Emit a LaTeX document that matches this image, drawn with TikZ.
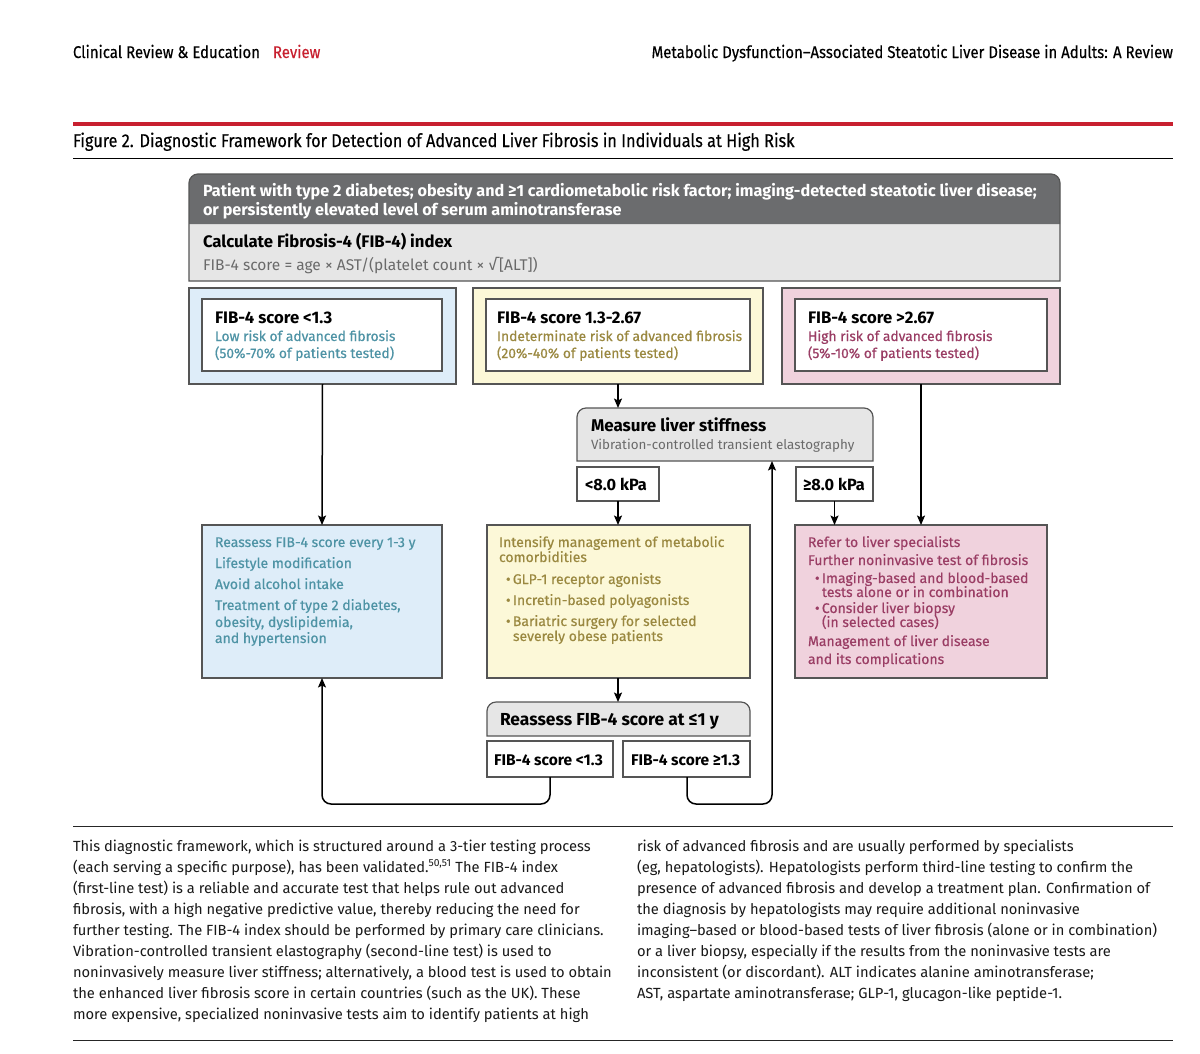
\documentclass[tikz,border=0pt]{standalone}
\usepackage{fontspec}
\setmainfont{Fira Sans}
\newfontfamily\hdrfont[FakeStretch=0.88,FakeBold=0.3]{Fira Sans}
\newfontfamily\diafont{Fira Sans}
\newfontfamily\medfont[FakeBold=0.5]{Fira Sans}
\usetikzlibrary{arrows.meta}
\definecolor{redline}{HTML}{C8202F}
\definecolor{hdrgray}{HTML}{6B6C6E}
\definecolor{lightgray}{HTML}{E6E6E6}
\definecolor{bordergray}{HTML}{555555}
\definecolor{txtgray}{HTML}{6A6A6A}
\definecolor{bluefill}{HTML}{DEEDF9}
\definecolor{bluetxt}{HTML}{4E93A5}
\definecolor{yelfill}{HTML}{FCF8D8}
\definecolor{yeltxt}{HTML}{9A8840}
\definecolor{pinkfill}{HTML}{F0D2DD}
\definecolor{pinktxt}{HTML}{9A3D64}
\begin{document}
\begin{tikzpicture}[x=1pt,y=-1pt,
  mybox/.style={draw=bordergray, line width=1.2pt, inner sep=0pt, outer sep=0pt, anchor=north west},
  myframe/.style={inner sep=0pt, outer sep=0pt, anchor=north west},
  mytxt/.style={anchor=base west, inner sep=0pt, outer sep=0pt},
  myttl/.style={mytxt, font=\diafont\bfseries\fontsize{16.7}{18}\selectfont, text=black},
  mysub/.style={mytxt, font=\medfont\fontsize{13.8}{17}\selectfont},
  mybody/.style={mytxt, font=\medfont\fontsize{14}{16}\selectfont},
  myarr/.style={-{Stealth[length=9.5pt,width=8pt,inset=2pt]}, line width=1.5pt, draw=black, rounded corners=9pt},
  mycap/.style={mytxt, align=left, font=\fontsize{14.7}{21}\selectfont, text=black!90}
]
\useasboundingbox[fill=white] (0,0) rectangle (1200,1053);

% page header
\node[mytxt, font=\hdrfont\fontsize{17}{19}\selectfont] (hl) at (73,58) {Clinical Review \& Education\hspace{13pt}\textcolor{redline}{Review}};
\node[mytxt, anchor=base east, font=\hdrfont\fontsize{17}{19}\selectfont] (hr) at (1173,58) {Metabolic Dysfunction–Associated Steatotic Liver Disease in Adults: A Review};
\draw[redline, line width=4pt] (73,124) -- (1173,124);
\node[mytxt, font=\hdrfont\fontsize{18.5}{21}\selectfont] (fig) at (73,147) {Figure 2. Diagnostic Framework for Detection of Advanced Liver Fibrosis in Individuals at High Risk};
\draw[black, line width=1pt] (73,158) -- (1173,158);

% top box
\node[myframe, minimum width=871pt, minimum height=107pt] (top) at (189,174) {};
\path[fill=lightgray] (top.south west) [rounded corners=9pt]-- (top.north west) -- (top.north east) [sharp corners]-- (top.south east) -- cycle;
\path[fill=hdrgray] ([yshift=-50pt]top.north west) [rounded corners=9pt]-- (top.north west) -- (top.north east) [sharp corners]-- ([yshift=-50pt]top.north east) -- cycle;
\draw[bordergray, line width=1.2pt] (top.south west) [rounded corners=9pt]-- (top.north west) -- (top.north east) [sharp corners]-- (top.south east) -- cycle;
\node[mytxt, align=left, font=\diafont\bfseries\fontsize{16.2}{19}\selectfont, text=white] (pt) at (203,215) {Patient with type 2 diabetes; obesity and ≥1 cardiometabolic risk factor; imaging-detected steatotic liver disease;\\or persistently elevated level of serum aminotransferase};
\node[myttl] (calc) at (203,247) {Calculate Fibrosis-4 (FIB-4) index};
\node[mytxt, text=txtgray, font=\diafont\fontsize{15.5}{17}\selectfont] (form) at (203,270) {FIB-4 score = age × AST/(platelet count × √[ALT])};

% tier boxes
\node[mybox, fill=bluefill, minimum width=267pt, minimum height=96pt] (bo) at (189,288) {};
\node[mybox, fill=white, minimum width=240pt, minimum height=72pt] (bi) at (202,299) {};
\node[myttl] (bt1) at (215,323) {FIB-4 score <1.3};
\node[mysub, text=bluetxt] (bt2) at (215,341) {Low risk of advanced fibrosis};
\node[mysub, text=bluetxt] (bt3) at (215,358) {(50\%-70\% of patients tested)};

\node[mybox, fill=yelfill, minimum width=290pt, minimum height=96pt] (yo) at (473,288) {};
\node[mybox, fill=white, minimum width=264pt, minimum height=72pt] (yi) at (486,299) {};
\node[myttl] (yt1) at (497,323) {FIB-4 score 1.3-2.67};
\node[mysub, text=yeltxt] (yt2) at (497,341) {Indeterminate risk of advanced fibrosis};
\node[mysub, text=yeltxt] (yt3) at (497,358) {(20\%-40\% of patients tested)};

\node[mybox, fill=pinkfill, minimum width=278pt, minimum height=96pt] (po) at (782,288) {};
\node[mybox, fill=white, minimum width=252pt, minimum height=72pt] (pi) at (795,299) {};
\node[myttl] (pt1) at (808,323) {FIB-4 score >2.67};
\node[mysub, text=pinktxt] (pt2) at (808,341) {High risk of advanced fibrosis};
\node[mysub, text=pinktxt] (pt3) at (808,358) {(5\%-10\% of patients tested)};

% measure box
\node[myframe, minimum width=296pt, minimum height=53pt] (meas) at (577,408) {};
\draw[bordergray, line width=1.2pt, fill=lightgray] (meas.south west) [rounded corners=9pt]-- (meas.north west) -- (meas.north east) [sharp corners]-- (meas.south east) -- cycle;
\node[mytxt, font=\diafont\bfseries\fontsize{17}{20}\selectfont] (mt1) at (591,431) {Measure liver stiffness};
\node[mytxt, text=txtgray, font=\diafont\fontsize{13.4}{16}\selectfont] (mt2) at (591,449) {Vibration-controlled transient elastography};
\node[mybox, fill=white, minimum width=82pt, minimum height=34pt] (lo) at (577,467) {};
\node[myttl, font=\diafont\bfseries\fontsize{16.3}{18}\selectfont] (lot) at (585,490) {<8.0 kPa};
\node[mybox, fill=white, minimum width=77pt, minimum height=34pt] (hi) at (796,467) {};
\node[myttl, font=\diafont\bfseries\fontsize{16.3}{18}\selectfont] (hit) at (803,490) {≥8.0 kPa};

% bottom boxes
\node[mybox, fill=bluefill, minimum width=240pt, minimum height=153pt] (bb) at (202,525) {};
\node[mybody, text=bluetxt] (bb1) at (215,547) {Reassess FIB-4 score every 1-3 y};
\node[mybody, text=bluetxt] (bb2) at (215,568) {Lifestyle modification};
\node[mybody, text=bluetxt] (bb3) at (215,589) {Avoid alcohol intake};
\node[mybody, text=bluetxt] (bb4) at (215,610) {Treatment of type 2 diabetes,};
\node[mybody, text=bluetxt] (bb5) at (215,627) {obesity, dyslipidemia,};
\node[mybody, text=bluetxt] (bb6) at (215,643) {and hypertension};

\node[mybox, fill=yelfill, minimum width=263pt, minimum height=153pt] (yb) at (487,525) {};
\node[mybody, text=yeltxt] (yb1) at (499,547) {Intensify management of metabolic};
\node[mybody, text=yeltxt] (yb2) at (499,562) {comorbidities};
\node[mybody, text=yeltxt] (yb3) at (506,584) {\textbullet\,GLP-1 receptor agonists};
\node[mybody, text=yeltxt] (yb4) at (506,605) {\textbullet\,Incretin-based polyagonists};
\node[mybody, text=yeltxt] (yb5) at (506,626) {\textbullet\,Bariatric surgery for selected};
\node[mybody, text=yeltxt] (yb6) at (513,641) {severely obese patients};

\node[mybox, fill=pinkfill, minimum width=252pt, minimum height=153pt] (pb) at (795,525) {};
\node[mybody, text=pinktxt] (pb1) at (808,547) {Refer to liver specialists};
\node[mybody, text=pinktxt] (pb2) at (808,565) {Further noninvasive test of fibrosis};
\node[mybody, text=pinktxt] (pb3) at (815,583) {\textbullet\,Imaging-based and blood-based};
\node[mybody, text=pinktxt] (pb4) at (822,597) {tests alone or in combination};
\node[mybody, text=pinktxt] (pb5) at (815,613) {\textbullet\,Consider liver biopsy};
\node[mybody, text=pinktxt] (pb6) at (822,627) {(in selected cases)};
\node[mybody, text=pinktxt] (pb7) at (808,646) {Management of liver disease};
\node[mybody, text=pinktxt] (pb8) at (808,664) {and its complications};

% reassess
\node[myframe, minimum width=263pt, minimum height=34pt] (re) at (487,702) {};
\draw[bordergray, line width=1.2pt, fill=lightgray] (re.south west) [rounded corners=9pt]-- (re.north west) -- (re.north east) [sharp corners]-- (re.south east) -- cycle;
\node[mytxt, font=\diafont\bfseries\fontsize{17.4}{20}\selectfont] (ret) at (500,725) {Reassess FIB-4 score at ≤1 y};
\node[mybox, fill=white, minimum width=126pt, minimum height=36pt] (rl) at (487,741) {};
\node[myttl, font=\diafont\bfseries\fontsize{15.5}{17}\selectfont] (rlt) at (494,765) {FIB-4 score <1.3};
\node[mybox, fill=white, minimum width=127pt, minimum height=36pt] (rr) at (623,741) {};
\node[myttl, font=\diafont\bfseries\fontsize{15.5}{17}\selectfont] (rrt) at (631,765) {FIB-4 score ≥1.3};

% connectors
\coordinate (down) at (0,804);
\draw[myarr] (bo.south) -- (bb.north);
\draw[myarr] (yo.south) -- (yo.south |- meas.north);
\draw[myarr] (po.south -| 921,0) -- (pb.north -| 921,0);
\draw[myarr] (lo.south) -- (lo.south |- yb.north);
\draw[myarr] (hi.south) -- (hi.south |- pb.north);
\draw[myarr] (yb.south -| yo.south) -- (yo.south |- re.north);
\draw[myarr] (rl.south -| 550,0) -- (550,804) -- (bb.south |- down) -- (bb.south);
\draw[myarr] (rr.south -| 687,0) -- (687,804) -- (772,804) -- (meas.south -| 772,0);

% caption
\draw[black!85, line width=1pt] (73,826) -- (1173,826);
\node[mycap] (capl) at (73,1019) {This diagnostic framework, which is structured around a 3-tier testing process\\
(each serving a specific purpose), has been validated.\textsuperscript{50,51} The FIB-4 index\\
(first-line test) is a reliable and accurate test that helps rule out advanced\\
fibrosis, with a high negative predictive value, thereby reducing the need for\\
further testing. The FIB-4 index should be performed by primary care clinicians.\\
Vibration-controlled transient elastography (second-line test) is used to\\
noninvasively measure liver stiffness; alternatively, a blood test is used to obtain\\
the enhanced liver fibrosis score in certain countries (such as the UK). These\\
more expensive, specialized noninvasive tests aim to identify patients at high};
\node[mycap] (capr) at (637,998) {risk of advanced fibrosis and are usually performed by specialists\\
(eg, hepatologists). Hepatologists perform third-line testing to confirm the\\
presence of advanced fibrosis and develop a treatment plan. Confirmation of\\
the diagnosis by hepatologists may require additional noninvasive\\
imaging–based or blood-based tests of liver fibrosis (alone or in combination)\\
or a liver biopsy, especially if the results from the noninvasive tests are\\
inconsistent (or discordant). ALT indicates alanine aminotransferase;\\
AST, aspartate aminotransferase; GLP-1, glucagon-like peptide-1.};
\draw[black!85, line width=1pt] (73,1040) -- (1173,1040);
\end{tikzpicture}
\end{document}
